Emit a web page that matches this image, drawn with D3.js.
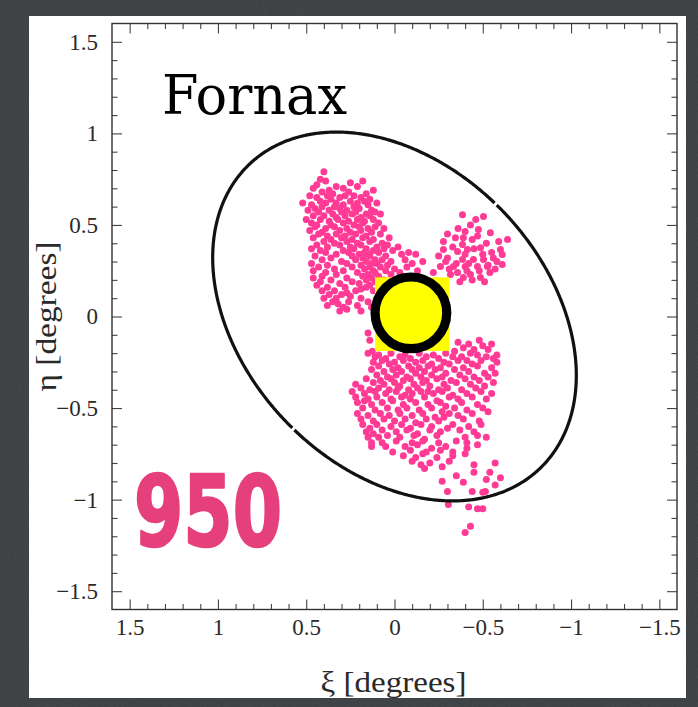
<!DOCTYPE html>
<html>
<head>
<meta charset="utf-8">
<script src="https://cdn.jsdelivr.net/npm/d3@7"></script>
<style>
  html, body { margin: 0; padding: 0; background: #3a3d40; }
  svg { display: block; }
</style>
</head>
<body>
<svg id="chart" width="698" height="707"></svg>
<script>
// ---- Axis ticks (degrees) ----
const majorTicks = [-1.5, -1, -0.5, 0, 0.5, 1, 1.5];
const minorTicks = [-1.4, -1.3, -1.2, -1.1, -0.9, -0.8, -0.7, -0.6, -0.4, -0.3, -0.2, -0.1,
                    0.1, 0.2, 0.3, 0.4, 0.6, 0.7, 0.8, 0.9, 1.1, 1.2, 1.3, 1.4];
const xDomain = [1.6, -1.6];
const yDomain = [-1.6, 1.6];

// ---- Tidal ellipse (semi-major, semi-minor in degrees, position angle N through E) ----
const tidalA = 1.17;
const tidalB = 0.84;
const tidalPA = 47;

// ---- Central marker (square box and ring) ----
const boxXi = [0.11, -0.31];
const boxEta = [0.214, -0.188];
const ringCenter = [-0.093, 0.02];
const ringRadius = 0.203;

// ---- Member stars, [xi, eta] in degrees ----
const northEastLobe = [
  [0.40,0.79],[0.42,0.75],[0.39,0.74],[0.18,0.74],
  [0.44,0.72],[0.33,0.71],[0.25,0.73],
  [0.46,0.70],[0.37,0.69],[0.29,0.70],[0.21,0.71],[0.12,0.69],
  [0.41,0.68],[0.35,0.67],[0.26,0.68],[0.23,0.66],[0.16,0.67],
  [0.48,0.66],[0.44,0.65],[0.38,0.66],[0.31,0.65],[0.28,0.66],[0.19,0.65],[0.14,0.64],
  [0.42,0.63],[0.36,0.64],[0.33,0.62],[0.25,0.63],[0.21,0.62],[0.17,0.63],
  [0.52,0.62],[0.47,0.61],[0.39,0.62],[0.34,0.60],[0.29,0.61],[0.23,0.60],[0.15,0.61],[0.10,0.62],
  [0.45,0.59],[0.41,0.60],[0.37,0.58],[0.31,0.59],[0.27,0.58],[0.20,0.59],[0.13,0.58],
  [0.49,0.58],[0.43,0.57],[0.35,0.56],[0.30,0.57],[0.24,0.56],[0.22,0.57],[0.16,0.56],[0.11,0.57],
  [0.46,0.55],[0.40,0.55],[0.33,0.54],[0.28,0.55],[0.19,0.54],[0.14,0.55],[0.08,0.56],
  [0.50,0.53],[0.42,0.53],[0.37,0.52],[0.32,0.53],[0.26,0.52],[0.21,0.53],[0.17,0.52],[0.12,0.53],
  [0.47,0.51],[0.44,0.50],[0.36,0.50],[0.29,0.51],[0.23,0.50],[0.18,0.51],[0.09,0.51],
  [0.45,0.49],[0.39,0.48],[0.34,0.49],[0.27,0.48],[0.20,0.49],[0.15,0.48],[0.11,0.49],[0.06,0.48],
  [0.48,0.47],[0.41,0.46],[0.31,0.47],[0.25,0.46],[0.19,0.47],[0.13,0.46],
  [0.43,0.45],[0.38,0.44],[0.33,0.45],[0.28,0.44],[0.22,0.45],[0.16,0.44],[0.08,0.45],
  [0.46,0.43],[0.36,0.42],[0.30,0.43],[0.24,0.42],[0.18,0.43],[0.12,0.42],[0.03,0.43],
  [0.40,0.41],[0.34,0.40],[0.27,0.41],[0.21,0.40],[0.14,0.41],[0.07,0.40],
  [0.44,0.39],[0.38,0.38],[0.31,0.39],[0.25,0.38],[0.19,0.39],[0.16,0.37],[0.10,0.38],[0.04,0.39],
  [0.47,0.37],[0.42,0.36],[0.29,0.36],[0.23,0.37],[0.17,0.35],[0.12,0.36],[0.06,0.37],[-0.02,0.38],
  [0.39,0.35],[0.33,0.34],[0.26,0.35],[0.20,0.34],[0.14,0.33],[0.09,0.35],[0.01,0.36],[-0.08,0.35],
  [0.45,0.33],[0.36,0.32],[0.24,0.33],[0.18,0.32],[0.15,0.34],[0.11,0.31],[0.05,0.33],[-0.04,0.34],[-0.12,0.34],
  [0.41,0.31],[0.30,0.30],[0.22,0.31],[0.16,0.30],[0.13,0.29],[0.07,0.31],[0.02,0.30],[-0.06,0.31],
  [0.47,0.29],[0.38,0.28],[0.27,0.29],[0.19,0.28],[0.14,0.27],[0.10,0.29],[0.04,0.28],[-0.10,0.29],[-0.16,0.30],
  [0.43,0.27],[0.34,0.26],[0.24,0.27],[0.17,0.26],[0.12,0.25],[0.08,0.27],[0.00,0.26],[-0.07,0.27],
  [0.46,0.25],[0.39,0.24],[0.29,0.25],[0.21,0.24],[0.15,0.23],[0.11,0.24],[0.05,0.25],[-0.03,0.24],[-0.13,0.25],
  [0.41,0.22],[0.33,0.23],[0.18,0.22],[0.13,0.21],[0.09,0.22],[0.02,0.23],
  [0.46,0.21],[0.36,0.20],[0.27,0.21],[0.24,0.19],[0.16,0.20],[0.11,0.19],[0.06,0.20],
  [0.42,0.19],[0.31,0.18],[0.20,0.18],[0.14,0.17],[0.08,0.18],
  [0.44,0.17],[0.38,0.16],[0.28,0.16],[0.19,0.15],[0.16,0.16],
  [0.41,0.14],[0.34,0.14],[0.27,0.13],[0.22,0.14],[0.12,0.14],
  [0.37,0.12],[0.30,0.12],[0.25,0.11],
  [0.40,0.10],[0.33,0.10],[0.19,0.10],
  [0.35,0.08],[0.32,0.07],[0.26,0.08],[0.15,0.08],
  [0.38,0.06],[0.29,0.05],[0.21,0.06],[0.13,0.05],
  [0.31,0.03],[0.27,0.04],[0.19,0.03],
  [0.15,-0.09],[0.14,-0.13],[0.125,-0.19]
];

const northWestLobe = [
  [-0.385,0.556],[-0.504,0.546],[-0.46,0.53],[-0.43,0.50],[-0.36,0.48],
  [-0.40,0.464],[-0.475,0.475],[-0.543,0.458],[-0.30,0.45],[-0.39,0.43],
  [-0.64,0.42],[-0.277,0.41],[-0.345,0.43],[-0.44,0.42],[-0.47,0.44],[-0.59,0.41],
  [-0.385,0.393],[-0.487,0.376],[-0.52,0.40],[-0.33,0.38],[-0.45,0.37],
  [-0.277,0.366],[-0.357,0.355],[-0.413,0.366],[-0.60,0.366],[-0.61,0.338],[-0.55,0.35],
  [-0.30,0.32],[-0.385,0.311],[-0.447,0.311],[-0.504,0.311],[-0.56,0.32],[-0.50,0.34],[-0.40,0.34],[-0.25,0.33],
  [-0.26,0.273],[-0.334,0.273],[-0.40,0.273],[-0.47,0.273],[-0.526,0.273],[-0.61,0.284],
  [-0.29,0.30],[-0.35,0.29],[-0.42,0.29],[-0.58,0.30],[-0.53,0.28],
  [-0.357,0.24],[-0.43,0.23],[-0.487,0.213],[-0.39,0.213],[-0.317,0.23],
  [-0.48,0.25],[-0.54,0.24],[-0.41,0.25],[-0.31,0.26],[-0.57,0.26],
  [-0.44,0.20],[-0.37,0.19],[-0.51,0.19],[-0.22,0.24],[-0.24,0.18]
];

const southBody = [
  [-0.36,-0.14],[-0.42,-0.15],[-0.48,-0.13],[-0.55,-0.15],
  [-0.39,-0.17],[-0.50,-0.16],[-0.45,-0.18],
  [-0.34,-0.19],[-0.43,-0.20],[-0.53,-0.18],[-0.58,-0.21],
  [0.15,-0.20],[0.09,-0.21],[0.02,-0.20],[-0.06,-0.21],[-0.14,-0.20],[-0.22,-0.21],[-0.29,-0.20],[-0.38,-0.22],[-0.47,-0.21],[-0.56,-0.23],
  [0.11,-0.22],[0.05,-0.23],[-0.03,-0.22],[-0.09,-0.23],[-0.18,-0.22],[-0.25,-0.23],[-0.33,-0.22],[-0.41,-0.24],[-0.52,-0.22],[-0.58,-0.25],
  [0.12,-0.25],[0.07,-0.24],[0.00,-0.25],[-0.05,-0.24],[-0.12,-0.25],[-0.16,-0.24],[-0.21,-0.26],[-0.28,-0.25],[-0.36,-0.24],[-0.44,-0.26],[-0.49,-0.24],
  [0.09,-0.27],[0.03,-0.26],[-0.02,-0.28],[-0.08,-0.27],[-0.14,-0.28],[-0.19,-0.27],[-0.26,-0.28],[-0.31,-0.26],[-0.39,-0.28],[-0.47,-0.27],[-0.55,-0.28],
  [0.13,-0.29],[0.06,-0.30],[0.01,-0.29],[-0.04,-0.30],[-0.10,-0.29],[-0.17,-0.30],[-0.23,-0.29],[-0.29,-0.31],[-0.34,-0.29],[-0.42,-0.30],[-0.51,-0.31],
  [0.10,-0.32],[0.04,-0.33],[-0.01,-0.32],[-0.07,-0.33],[-0.12,-0.31],[-0.15,-0.33],[-0.21,-0.32],[-0.27,-0.33],[-0.37,-0.32],[-0.45,-0.33],[-0.53,-0.33],[-0.57,-0.31],
  [0.16,-0.34],[0.08,-0.35],[0.02,-0.34],[-0.05,-0.35],[-0.09,-0.34],[-0.18,-0.35],[-0.24,-0.34],[-0.32,-0.35],[-0.40,-0.34],[-0.48,-0.35],
  [0.22,-0.37],[0.12,-0.36],[0.06,-0.37],[0.00,-0.36],[-0.03,-0.38],[-0.11,-0.37],[-0.16,-0.36],[-0.20,-0.38],[-0.28,-0.37],[-0.35,-0.36],[-0.43,-0.37],[-0.51,-0.38],[-0.56,-0.36],
  [0.19,-0.39],[0.14,-0.40],[0.09,-0.39],[0.03,-0.40],[-0.02,-0.39],[-0.08,-0.40],[-0.13,-0.39],[-0.19,-0.41],[-0.25,-0.40],[-0.30,-0.39],[-0.38,-0.40],[-0.46,-0.39],
  [0.24,-0.41],[0.17,-0.42],[0.11,-0.41],[0.05,-0.42],[-0.01,-0.41],[-0.06,-0.43],[-0.10,-0.42],[-0.15,-0.41],[-0.22,-0.42],[-0.27,-0.41],[-0.33,-0.43],[-0.41,-0.42],[-0.49,-0.41],[-0.55,-0.42],
  [0.22,-0.44],[0.15,-0.45],[0.10,-0.44],[0.02,-0.45],[-0.04,-0.44],[-0.09,-0.45],[-0.17,-0.44],[-0.24,-0.46],[-0.31,-0.44],[-0.36,-0.45],[-0.44,-0.44],[-0.52,-0.45],
  [0.21,-0.47],[0.17,-0.46],[0.13,-0.48],[0.07,-0.47],[0.01,-0.46],[-0.05,-0.48],[-0.12,-0.47],[-0.19,-0.48],[-0.26,-0.47],[-0.29,-0.49],[-0.38,-0.47],[-0.47,-0.48],
  [0.18,-0.50],[0.11,-0.51],[0.04,-0.50],[-0.02,-0.51],[-0.07,-0.50],[-0.14,-0.51],[-0.21,-0.50],[-0.27,-0.52],[-0.34,-0.50],[-0.41,-0.51],[-0.50,-0.50],[-0.53,-0.52],
  [0.21,-0.53],[0.15,-0.54],[0.08,-0.53],[0.03,-0.54],[-0.03,-0.53],[-0.10,-0.54],[-0.16,-0.53],[-0.23,-0.55],[-0.31,-0.53],[-0.36,-0.54],[-0.44,-0.53],
  [0.19,-0.56],[0.12,-0.57],[0.06,-0.56],[0.00,-0.57],[-0.06,-0.56],[-0.12,-0.58],[-0.18,-0.56],[-0.25,-0.57],[-0.28,-0.55],[-0.39,-0.56],[-0.48,-0.57],
  [0.18,-0.59],[0.14,-0.61],[0.10,-0.59],[0.02,-0.60],[-0.04,-0.59],[-0.09,-0.61],[-0.15,-0.59],[-0.21,-0.60],[-0.33,-0.59],[-0.42,-0.60],[-0.49,-0.59],
  [0.16,-0.63],[0.12,-0.64],[0.07,-0.62],[-0.01,-0.63],[-0.07,-0.62],[-0.13,-0.64],[-0.20,-0.62],[-0.26,-0.63],[-0.30,-0.61],[-0.37,-0.62],[-0.45,-0.63],
  [0.15,-0.66],[0.09,-0.66],[0.04,-0.65],[-0.03,-0.66],[-0.11,-0.65],[-0.17,-0.67],[-0.24,-0.65],[-0.40,-0.66],[-0.47,-0.65],[-0.52,-0.66],
  [0.13,-0.69],[0.07,-0.69],[-0.01,-0.68],[-0.10,-0.69],[-0.16,-0.68],[-0.25,-0.69],[-0.35,-0.68],[-0.41,-0.69],[-0.47,-0.70],
  [0.13,-0.71],[0.05,-0.71],[-0.06,-0.71],[-0.13,-0.70],[-0.21,-0.72],[-0.29,-0.71],[-0.41,-0.72],
  [0.01,-0.74],[-0.09,-0.73],[-0.18,-0.74],[-0.26,-0.73],[-0.33,-0.74],[-0.40,-0.75],
  [-0.05,-0.76],[-0.12,-0.77],[-0.16,-0.75],[-0.24,-0.77],[-0.33,-0.76],
  [-0.10,-0.79],[-0.20,-0.80],[-0.15,-0.81],[-0.31,-0.79],
  [-0.27,-0.82],[-0.17,-0.83]
];

const southTail = [
  [-0.27,-0.90],[-0.30,-0.955],[-0.39,-0.905],[-0.45,-0.81],[-0.45,-0.85],
  [-0.57,-0.80],[-0.54,-0.85],[-0.60,-0.88],[-0.57,-0.92],[-0.44,-0.955],
  [-0.50,-0.96],[-0.515,-0.955],[-0.42,-1.04],[-0.47,-1.05],[-0.50,-1.05],
  [-0.305,-1.026],[-0.43,-1.146],[-0.40,-1.18],[-0.35,-0.87],[-0.52,-0.89]
];

const members = [...northEastLobe, ...northWestLobe, ...southBody, ...southTail];

// ---- Layout ----
const W = 698, H = 707;
const svg = d3.select("#chart");
const x = d3.scaleLinear().domain(xDomain).range([112, 677]);
const y = d3.scaleLinear().domain(yDomain).range([609.5, 23.5]);

// textured slate backdrop
const defs = svg.append("defs");
const grain = defs.append("filter").attr("id", "grain").attr("x", 0).attr("y", 0).attr("width", "100%").attr("height", "100%");
grain.append("feTurbulence").attr("type", "fractalNoise").attr("baseFrequency", 0.9).attr("numOctaves", 2).attr("seed", 7);
grain.append("feColorMatrix").attr("type", "matrix")
  .attr("values", "0 0 0 0 0.1  0 0 0 0 0.11  0 0 0 0 0.12  0 0 0 -1.6 1.1");
svg.append("rect").attr("width", W).attr("height", H).attr("fill", "#3d4144");
svg.append("rect").attr("width", W).attr("height", H).attr("filter", "url(#grain)").attr("opacity", 0.35);

// white sheet
svg.append("rect").attr("x", 29).attr("y", 16).attr("width", 657).attr("height", 682).attr("fill", "#ffffff");

const plot = svg.append("g");
const clipId = "plotClip";
defs.append("clipPath").attr("id", clipId).append("rect")
  .attr("x", x.range()[0]).attr("y", y.range()[1])
  .attr("width", x.range()[1] - x.range()[0]).attr("height", y.range()[0] - y.range()[1]);

// member stars
plot.append("g").attr("clip-path", `url(#${clipId})`)
  .selectAll("circle").data(members).join("circle")
  .attr("cx", d => x(d[0])).attr("cy", d => y(d[1])).attr("r", 3.5)
  .attr("fill", "#ff3b96");

// tidal ellipse, drawn as two arcs with small breaks at the minor-axis ends
const pa = tidalPA * Math.PI / 180;
const ellipsePoint = t => {
  const r = t * Math.PI / 180;
  const ca = tidalA * Math.cos(r), sb = tidalB * Math.sin(r);
  return [ca * Math.sin(pa) + sb * Math.cos(pa), ca * Math.cos(pa) - sb * Math.sin(pa)];
};
const line = d3.line().x(d => x(d[0])).y(d => y(d[1])).curve(d3.curveLinear);
[[90.4, 269.6], [270.4, 449.6]].forEach(([t0, t1]) => {
  const pts = d3.range(t0, t1, 0.5).concat([t1]).map(ellipsePoint);
  plot.append("path").attr("d", line(pts)).attr("fill", "none")
    .attr("stroke", "#111").attr("stroke-width", 3.2);
});

// central marker
plot.append("rect")
  .attr("x", x(boxXi[0])).attr("y", y(boxEta[0]))
  .attr("width", x(boxXi[1]) - x(boxXi[0])).attr("height", y(boxEta[1]) - y(boxEta[0]))
  .attr("fill", "#ffff00");
plot.append("circle")
  .attr("cx", x(ringCenter[0])).attr("cy", y(ringCenter[1]))
  .attr("r", x(0) - x(ringRadius))
  .attr("fill", "#ffff00").attr("stroke", "#000").attr("stroke-width", 9.2);

// axes: ticks on all four sides pointing inward
const fmt = d3.format("~g");
const labelFont = "'Liberation Serif', 'DejaVu Serif', serif";
function axis(gen, transform, values, len, withLabels, pad) {
  const g = svg.append("g").attr("transform", transform)
    .call(gen.tickValues(values).tickSizeInner(-len).tickSizeOuter(0)
      .tickPadding(pad || 0).tickFormat(withLabels ? fmt : () => ""));
  g.select(".domain").remove();
  g.selectAll(".tick line").attr("stroke", "#444").attr("stroke-width", 1.1);
  g.selectAll(".tick text").attr("fill", "#2a2a2a").attr("font-family", labelFont).attr("font-size", 23);
  return g;
}
const [x0, x1] = x.range(), [yb, yt] = y.range();
axis(d3.axisBottom(x), `translate(0,${yb})`, majorTicks, 10, true, 9);
axis(d3.axisBottom(x), `translate(0,${yb})`, minorTicks, 5.5, false);
axis(d3.axisTop(x), `translate(0,${yt})`, majorTicks, 10, false);
axis(d3.axisTop(x), `translate(0,${yt})`, minorTicks, 5.5, false);
axis(d3.axisLeft(y), `translate(${x0},0)`, majorTicks, 10, true, 14);
axis(d3.axisLeft(y), `translate(${x0},0)`, minorTicks, 5.5, false);
axis(d3.axisRight(y), `translate(${x1},0)`, majorTicks, 10, false);
axis(d3.axisRight(y), `translate(${x1},0)`, minorTicks, 5.5, false);

svg.append("rect").attr("x", x0).attr("y", yt).attr("width", x1 - x0).attr("height", yb - yt)
  .attr("fill", "none").attr("stroke", "#333").attr("stroke-width", 1.4);

// axis titles
svg.append("text").attr("x", (x0 + x1) / 2 - 1).attr("y", 692).attr("text-anchor", "middle")
  .attr("font-family", labelFont).attr("font-size", 29).attr("fill", "#2a2a2a")
  .attr("textLength", 146).attr("lengthAdjust", "spacingAndGlyphs")
  .text("ξ [degrees]");
svg.append("text").attr("transform", `translate(56,${(yb + yt) / 2}) rotate(-90)`).attr("text-anchor", "middle")
  .attr("font-family", labelFont).attr("font-size", 29).attr("fill", "#2a2a2a")
  .attr("textLength", 150).attr("lengthAdjust", "spacingAndGlyphs")
  .text("η [degrees]");

// galaxy name and member count
svg.append("text").attr("x", 162).attr("y", 114)
  .attr("font-family", "'DejaVu Serif', serif")
  .attr("font-size", 55)
  .attr("textLength", 185).attr("lengthAdjust", "spacingAndGlyphs").attr("fill", "#000")
  .text("Fornax");
svg.append("text").attr("x", 134).attr("y", 546)
  .attr("font-family", "'DejaVu Sans', sans-serif").attr("font-weight", "bold").attr("font-size", 98)
  .attr("textLength", 148).attr("lengthAdjust", "spacingAndGlyphs").attr("fill", "#e5407c")
  .attr("stroke", "#e5407c").attr("stroke-width", 2.5).attr("stroke-linejoin", "round")
  .text("950");
</script>
</body>
</html>
